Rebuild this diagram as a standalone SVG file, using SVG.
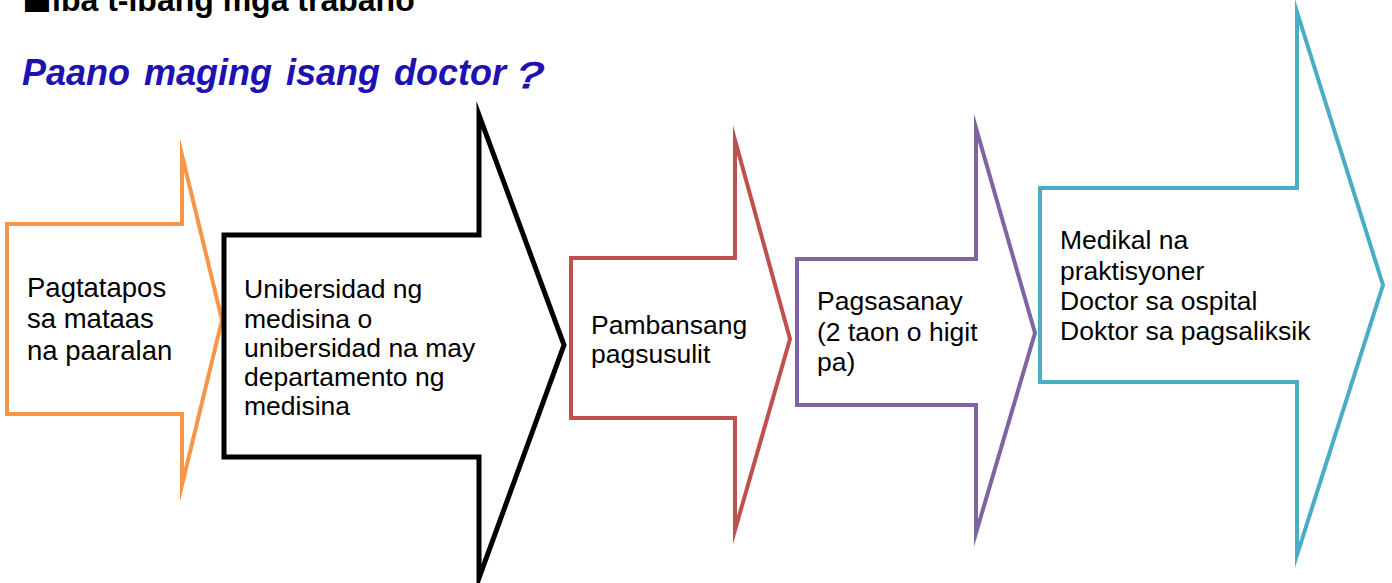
<svg xmlns="http://www.w3.org/2000/svg" width="1392" height="583" viewBox="0 0 1392 583">
<style>
.shape{fill:#fff;stroke-linejoin:miter;stroke-miterlimit:10}
.lbl{font-family:"Liberation Sans",Arial,sans-serif;fill:#000}
.head{font-family:"Liberation Sans",Arial,"Noto Sans CJK JP",sans-serif;font-weight:bold;fill:#000}
.title{font-family:"Liberation Sans",Arial,sans-serif;font-weight:bold;font-style:italic;fill:#2010B0}
</style>
<rect width="1392" height="583" fill="#fff"/>
<g id="header">
<text class="head" x="22" y="11" font-size="32"><tspan font-family="'Noto Sans CJK JP',sans-serif" font-size="30">■</tspan>iba t-ibang mga trabaho</text>
<text class="title" x="22" y="85" font-size="36" word-spacing="4">Paano maging isang doctor</text>
<text class="title" transform="translate(502,88) scale(1.3,1)" x="0" y="0" font-family="'Noto Sans CJK JP',sans-serif" font-weight="normal" font-size="37">？</text>
</g>
<g id="node-graduation">
<path class="shape" stroke="#F79646" stroke-width="4" d="M7,224 H182 V155 L222,320 L182,485 V414 H7 Z"/>
<text class="lbl" font-size="27.5" x="27"><tspan x="27" y="297">Pagtatapos</tspan><tspan x="27" y="328">sa mataas</tspan><tspan x="27" y="360">na paaralan</tspan></text>
</g>
<g id="node-university">
<path class="shape" stroke="#000" stroke-width="5" d="M224,235 H479 V115 L564,345 L479,578 V457 H224 Z"/>
<text class="lbl" font-size="26.5"><tspan x="244" y="298">Unibersidad ng</tspan><tspan x="244" y="328">medisina o</tspan><tspan x="244" y="357">unibersidad na may</tspan><tspan x="244" y="386">departamento ng</tspan><tspan x="244" y="415">medisina</tspan></text>
</g>
<g id="node-exam">
<path class="shape" stroke="#C0504D" stroke-width="4" d="M571,258 H735 V140 L790,339 L735,530 V418 H571 Z"/>
<text class="lbl" font-size="26.5"><tspan x="591" y="334">Pambansang</tspan><tspan x="591" y="363">pagsusulit</tspan></text>
</g>
<g id="node-training">
<path class="shape" stroke="#8064A2" stroke-width="4" d="M797,259 H976 V128 L1035,333 L976,533 V405 H797 Z"/>
<text class="lbl" font-size="26.5"><tspan x="817" y="310">Pagsasanay</tspan><tspan x="817" y="341">(2 taon o higit</tspan><tspan x="817" y="371">pa)</tspan></text>
</g>
<g id="node-careers">
<path class="shape" stroke="#4BACC6" stroke-width="4" d="M1040,188 H1297 V12 L1383,285 L1297,555 V382 H1040 Z"/>
<text class="lbl" font-size="26.5"><tspan x="1060" y="249">Medikal na</tspan><tspan x="1060" y="280">praktisyoner</tspan><tspan x="1060" y="310">Doctor sa ospital</tspan><tspan x="1060" y="340">Doktor sa pagsaliksik</tspan></text>
</g>
<g id="connectors"/>
</svg>
